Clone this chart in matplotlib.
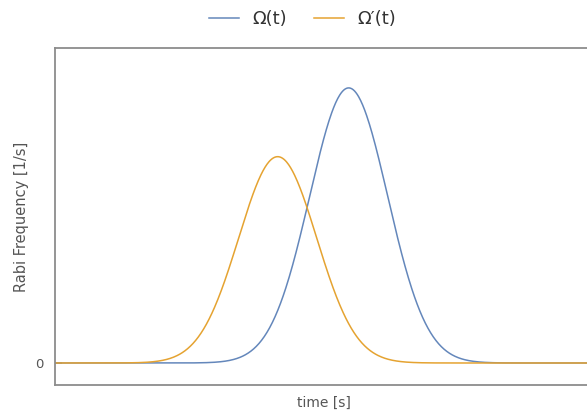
import numpy as np
import matplotlib
matplotlib.use("Agg")
import matplotlib.pyplot as plt

# Gaussian pulse parameters (arbitrary time units)
pulse_names = ["Ω(t)", "Ω′(t)"]
pulse_amplitudes = [1.0, 0.75]
pulse_centers = [5.46, 4.14]
pulse_widths = [0.725, 0.725]
pulse_colors = ["#6487BB", "#E5A331"]

t_min, t_max = 0.0, 10.0
t = np.linspace(t_min, t_max, 800)

fig = plt.figure(figsize=(5.87, 4.12), dpi=100)
ax = fig.add_axes([55 / 587, 27 / 412, 1 - 55 / 587 + 0.01, (385 - 48) / 412])

handles = []
for name, amp, c, w, col in zip(pulse_names, pulse_amplitudes, pulse_centers,
                                pulse_widths, pulse_colors):
    y = amp * np.exp(-(t - c) ** 2 / (2 * w ** 2))
    h, = ax.plot(t, y, color=col, lw=1.1, label=name)
    handles.append(h)

ax.set_xlim(t_min, t_max)
ax.set_ylim(-0.08, 1.145)

spine_col = "#8c8c8c"
for side in ["left", "bottom", "top"]:
    ax.spines[side].set_color(spine_col)
    ax.spines[side].set_linewidth(1.3)
ax.spines["right"].set_visible(False)

ax.set_xticks([])
ax.set_yticks([0])
ax.set_yticklabels(["0"])
ax.tick_params(axis="y", direction="in", length=5, width=1.3, color=spine_col,
               labelcolor="#555555", labelsize=9.5, pad=8)

ax.set_xlabel("time [s]", color="#555555", fontsize=10, labelpad=8)
ax.set_ylabel("Rabi Frequency [1/s]", color="#555555", fontsize=10.5, labelpad=5)

fig.legend(handles=handles, loc="upper center", bbox_to_anchor=(0.515, 1.015),
           ncol=2, frameon=False, fontsize=13, handlelength=1.7,
           columnspacing=1.5, handletextpad=0.7, labelcolor="#333333")

fig.savefig("out.png", dpi=100)
